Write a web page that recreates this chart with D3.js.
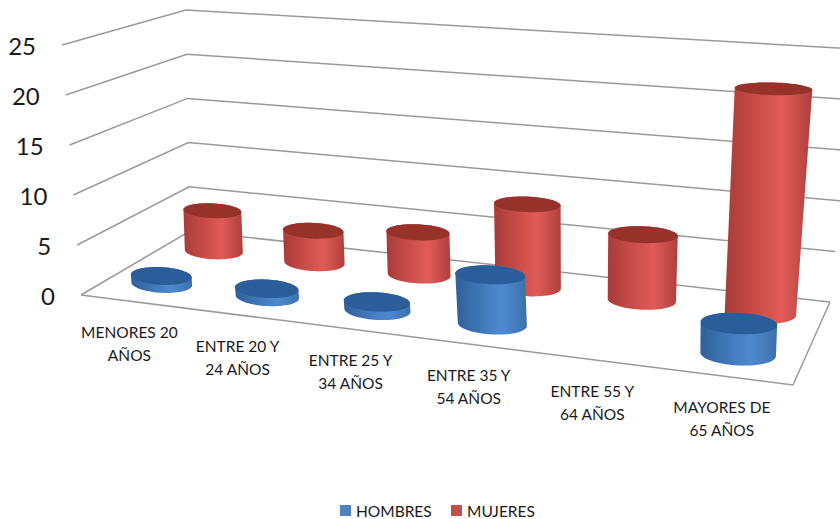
<!DOCTYPE html>
<html>
<head>
<meta charset="utf-8">
<script src="https://cdn.jsdelivr.net/npm/d3@7"></script>
<style>
	html, body { margin: 0; padding: 0; background: #fff; }
	text { font-family: Lato, "Open Sans", sans-serif; fill: #1a1a1a; }
</style>
</head>
<body>
<div id="chart"></div>
<script>
const categories = [
	['MENORES 20', 'AÑOS'],
	['ENTRE 20 Y', '24 AÑOS'],
	['ENTRE 25 Y', '34 AÑOS'],
	['ENTRE 35 Y', '54 AÑOS'],
	['ENTRE 55 Y', '64 AÑOS'],
	['MAYORES DE', '65 AÑOS']
];
const seriesNames = ['HOMBRES', 'MUJERES'];
const hombres = [0.8, 0.8, 0.8, 4.7, 0, 2.8];
const mujeres = [4.4, 3.4, 4.4, 8.4, 6.5, 21.8];
const yTicks = [0, 5, 10, 15, 20, 25];

const width = 840,
	height = 519;

// screen corners of the floor (value 0) and of the top plane (value 25)
const floorQuad = [[81, 295], [793, 385], [830, 302], [190, 231]];
const topQuad = [[62, 45], [803, 98], [855, 49], [186, 10]];

function homography(q) {
	const [[x0, y0], [x1, y1], [x2, y2], [x3, y3]] = q;
	const dx1 = x1 - x2, dx2 = x3 - x2, sx = x0 - x1 + x2 - x3;
	const dy1 = y1 - y2, dy2 = y3 - y2, sy = y0 - y1 + y2 - y3;
	const den = dx1 * dy2 - dx2 * dy1;
	const g = (sx * dy2 - dx2 * sy) / den;
	const h = (dx1 * sy - sx * dy1) / den;
	const a = x1 - x0 + g * x1, b = x3 - x0 + h * x3;
	const d = y1 - y0 + g * y1, e = y3 - y0 + h * y3;
	return (u, w) => {
		const k = g * u + h * w + 1;
		return [(a * u + b * w + x0) / k, (d * u + e * w + y0) / k];
	};
}

const floorAt = homography(floorQuad);
const topAt = homography(topQuad);
const valueScale = d3.scaleLinear().domain([0, 25]).range([0, 1]);

// u: along the categories, w: depth, v: value
function project(u, w, v) {
	const t = valueScale(v);
	const p0 = floorAt(u, w), p1 = topAt(u, w);
	return [p0[0] + (p1[0] - p0[0]) * t, p0[1] + (p1[1] - p0[1]) * t];
}

const xBand = d3.scaleBand().domain(d3.range(categories.length)).range([0, 1]);
const depthBand = d3.scaleBand().domain(seriesNames).range([0, 1]);
const colors = d3.scaleOrdinal().domain(seriesNames).range(['#4F81BD', '#C0504D']);

const svg = d3.select('#chart')
	.append('svg')
	.attr('width', width)
	.attr('height', height)
	.style('display', 'block');

const defs = svg.append('defs');
defs.append('filter').attr('id', 'soft')
	.append('feGaussianBlur').attr('stdDeviation', 0.6);

const bodyStops = {
	HOMBRES: ['#2f6199', '#3f77b8', '#4f8ad0', '#3c70ae'],
	MUJERES: ['#a83c38', '#c94c48', '#e05c58', '#b03f3b']
};
const topColor = { HOMBRES: '#2a5d99', MUJERES: '#96302c' };
seriesNames.forEach(function(name) {
	const grad = defs.append('linearGradient').attr('id', 'body' + name);
	bodyStops[name].forEach(function(c, i) {
		grad.append('stop').attr('offset', [0, 0.35, 0.65, 1][i]).attr('stop-color', c);
	});
});

// walls and floor
const frameLine = d3.line();
const grid = svg.append('g')
	.attr('fill', 'none')
	.attr('stroke', '#9a9a9a')
	.attr('stroke-width', 1.5)
	.attr('filter', 'url(#soft)');

grid.selectAll('path.wall')
	.data(yTicks)
	.enter().append('path')
	.attr('class', 'wall')
	.attr('d', function(v) {
		return frameLine([project(0, 0, v), project(0, 1, v), project(1, 1, v)]);
	});

grid.append('path')
	.attr('d', frameLine([project(0, 0, 0), project(1, 0, 0), project(1, 1, 0)]));

// y tick labels
svg.selectAll('text.tick')
	.data(yTicks)
	.enter().append('text')
	.attr('class', 'tick')
	.attr('x', function(v) { return project(0, 0, v)[0] - 26; })
	.attr('y', function(v) { return project(0, 0, v)[1] + 0.5; })
	.attr('text-anchor', 'end')
	.attr('dominant-baseline', 'central')
	.style('font-size', '24px')
	.text(function(v) { return v; });

// category labels, two lines each, hung below the front edge
const catLabels = svg.selectAll('g.cat')
	.data(categories)
	.enter().append('g')
	.attr('class', 'cat')
	.attr('transform', function(d, i) {
		const p = project(xBand(i) + xBand.bandwidth() / 2, 0, 0);
		return 'translate(' + [p[0] - 4, p[1] + 30.5] + ')';
	});

catLabels.selectAll('text')
	.data(function(d) { return d; })
	.enter().append('text')
	.attr('y', function(d, i) { return i * 23; })
	.attr('text-anchor', 'middle')
	.attr('dominant-baseline', 'central')
	.style('font-size', '15.5px')
	.text(function(d) { return d; });

// cylinders
const radiusU = 0.049,
	radiusW = 0.13,
	tilt = 0.4;
const angles = d3.range(0, 2 * Math.PI, Math.PI / 36);

function ring(i, name, v) {
	const u = xBand(i) + xBand.bandwidth() / 2;
	const w = depthBand(name) + depthBand.bandwidth() / 2;
	const c = project(u, w, v);
	const a = project(u - radiusU, w, v), b = project(u + radiusU, w, v);
	const ry = Math.abs(project(u, w + radiusW, v)[1] - project(u, w - radiusW, v)[1]) / 2;
	return angles.map(function(t) {
		return [
			c[0] + Math.cos(t) * (b[0] - a[0]) / 2,
			c[1] + Math.cos(t) * tilt * (b[1] - a[1]) / 2 + Math.sin(t) * ry
		];
	});
}

const bars = [
	{ name: 'MUJERES', values: mujeres },
	{ name: 'HOMBRES', values: hombres }
];
const closedLine = d3.line().curve(d3.curveLinearClosed);

bars.forEach(function(s) {
	const g = svg.append('g').attr('filter', 'url(#soft)');
	s.values.forEach(function(v, i) {
		if (v <= 0) return;
		const base = ring(i, s.name, 0), top = ring(i, s.name, v);
		g.append('path')
			.attr('d', closedLine(d3.polygonHull(base.concat(top))))
			.attr('fill', 'url(#body' + s.name + ')');
		g.append('path')
			.attr('d', closedLine(top))
			.attr('fill', topColor[s.name]);
	});
});

// legend
const legendX = [340, 451];
const legend = svg.selectAll('g.legend')
	.data(seriesNames)
	.enter().append('g')
	.attr('class', 'legend')
	.attr('transform', function(d, i) { return 'translate(' + legendX[i] + ',505)'; });

legend.append('rect')
	.attr('width', 11)
	.attr('height', 11)
	.attr('fill', function(d) { return colors(d); });

legend.append('text')
	.attr('x', 16)
	.attr('y', 5.5)
	.attr('dominant-baseline', 'central')
	.style('font-size', '15.5px')
	.text(function(d) { return d; });
</script>
</body>
</html>
